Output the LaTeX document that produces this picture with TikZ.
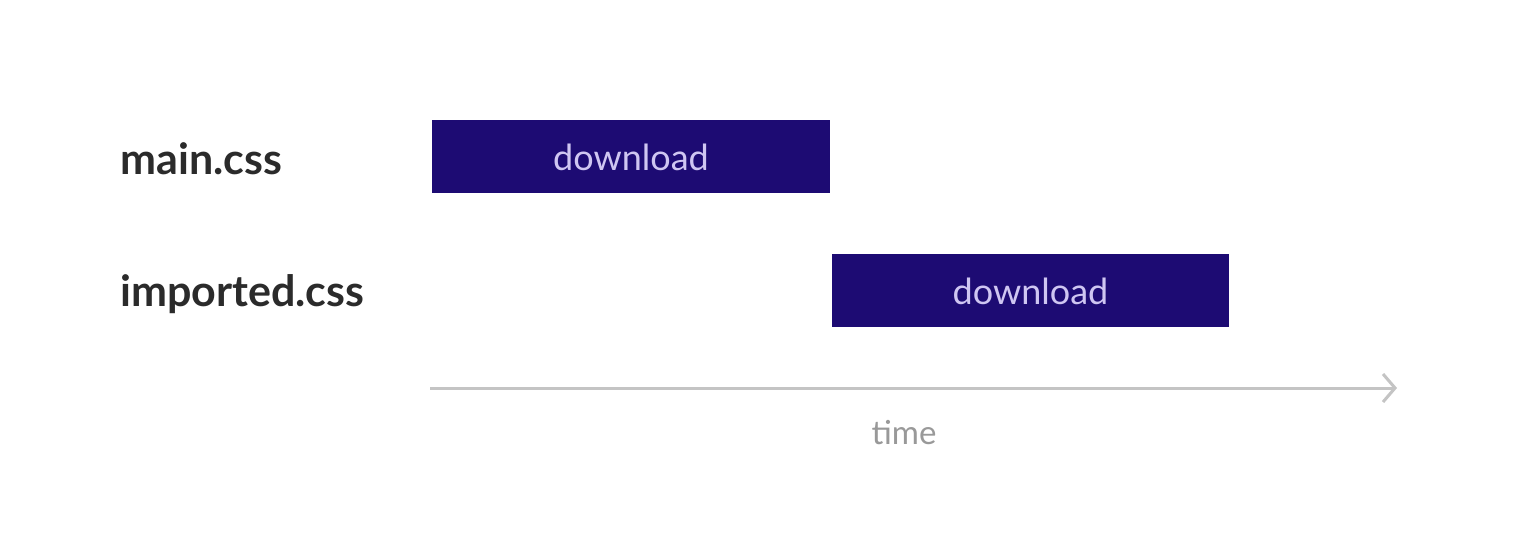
\documentclass[tikz,border=0pt]{standalone}
\usepackage{fontspec}
\setmainfont{Lato}
\usetikzlibrary{arrows.meta}
\definecolor{barblue}{HTML}{1D0B73}
\definecolor{bartext}{HTML}{CFC6F2}
\definecolor{labeltext}{HTML}{2B2B2B}
\definecolor{axisgray}{HTML}{C4C4C4}
\definecolor{timegray}{HTML}{999999}
\tikzset{
  bar/.style={fill=barblue, draw=none, inner sep=0pt, text=bartext, text height=28pt, text depth=0pt, font=\fontsize{36}{42}\selectfont},
  filelabel/.style={anchor=base west, inner sep=0pt, text=labeltext, font=\fontsize{43}{48}\selectfont\bfseries},
  axis/.style={draw=axisgray, line width=3pt, -{Straight Barb[length=12pt, width=28pt, line width=3pt]}},
}
\begin{document}
\begin{tikzpicture}[x=1pt, y=-1pt]
\useasboundingbox (0,0) rectangle (1516,558);
\fill[white] (0,0) rectangle (1516,558);
\node[bar, minimum width=398pt, minimum height=73pt] (d1) at (631,156.5) {download};
\node[bar, minimum width=397pt, minimum height=73pt] (d2) at (1030.5,290.5) {download};
\node[filelabel] (l1) at (120,174) {main.css};
\node[filelabel] (l2) at (120,306) {imported.css};
\coordinate (a0) at (430,388);
\coordinate (a1) at (1397,388);
\draw[axis] (a0) -- (a1);
\node[text=timegray, font=\fontsize{33}{40}\selectfont, anchor=base, inner sep=0pt] (t) at (904,444) {time};
\end{tikzpicture}
\end{document}
